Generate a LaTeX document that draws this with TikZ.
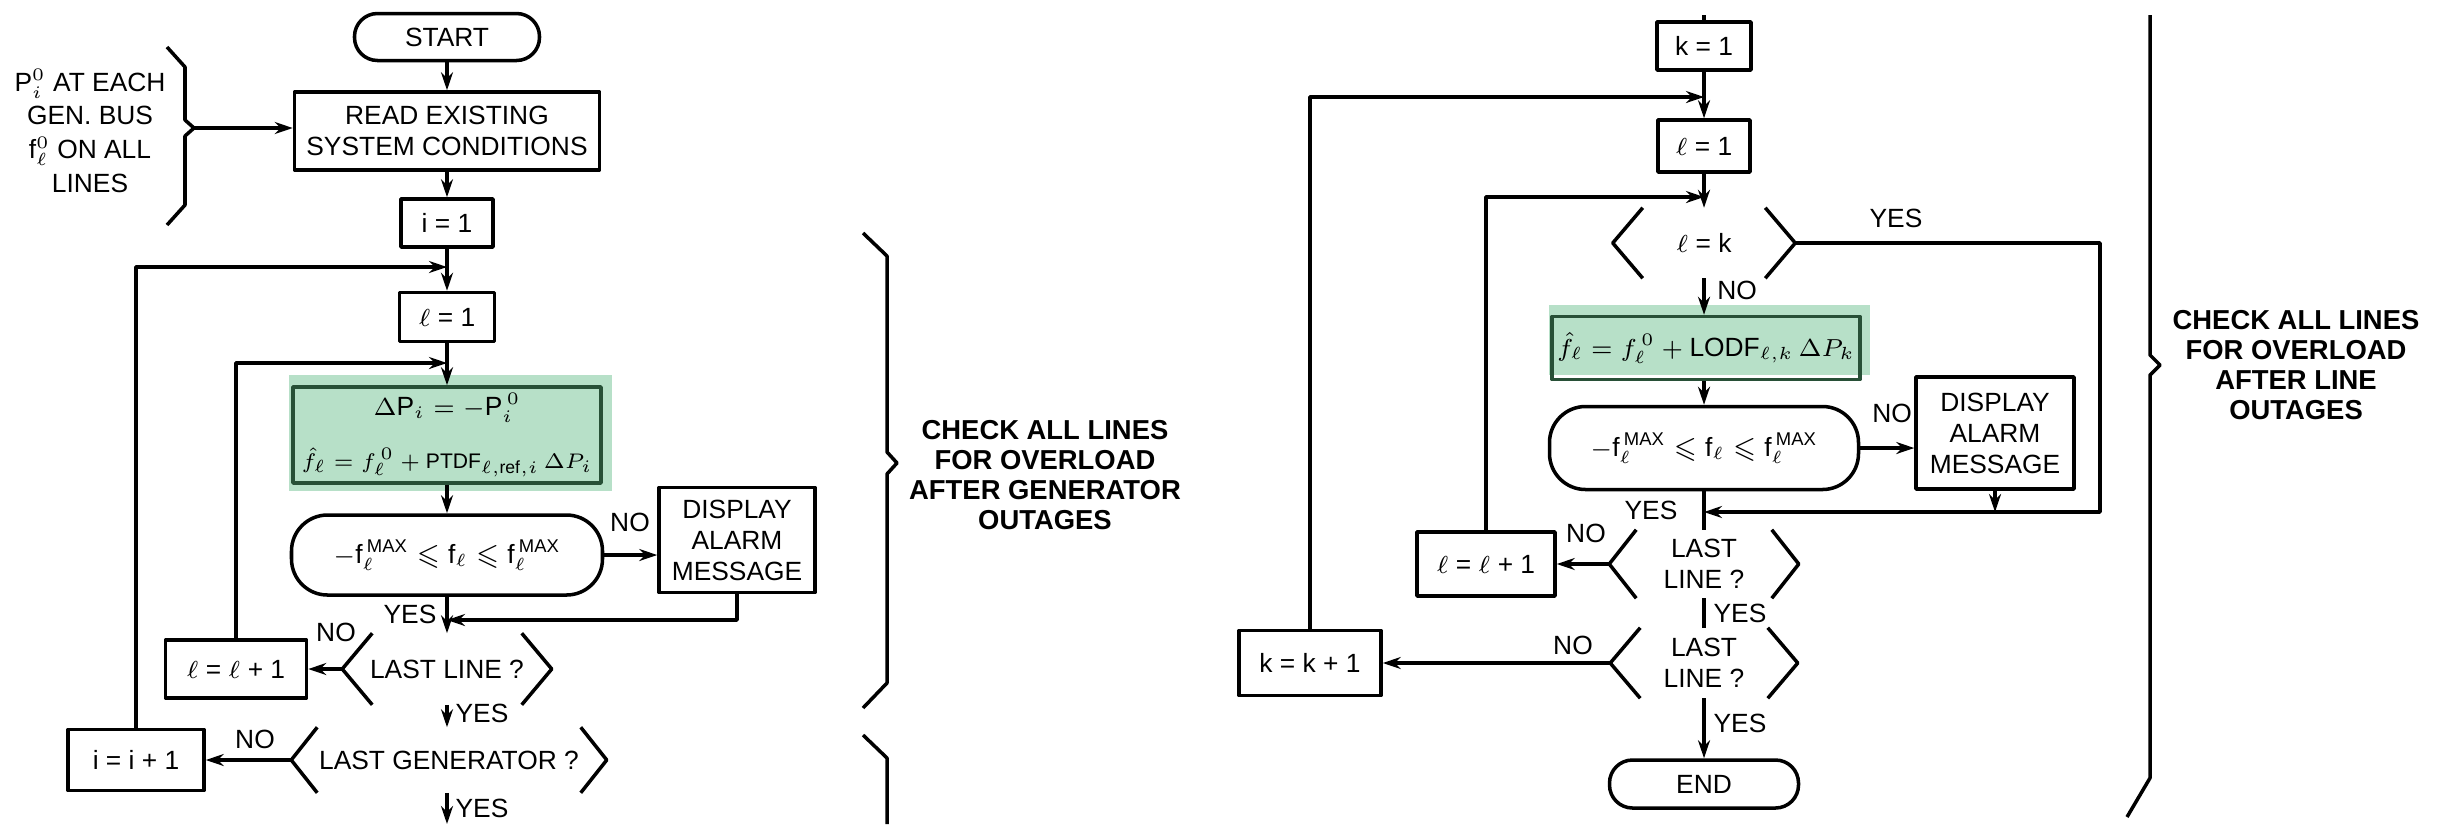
\documentclass[tikz,border=0pt]{standalone}
\usepackage{amsmath,amssymb}
\usepackage{fontspec}
\setmainfont{Liberation Sans}
\usetikzlibrary{arrows.meta}

\definecolor{hlgreen}{RGB}{183,224,200}
\definecolor{dkgreen}{RGB}{40,80,55}

\begin{document}
\begin{tikzpicture}[x=0.1mm,y=-0.1mm,line width=1pt,line join=round,
  every node/.style={font=\fontsize{7.5}{8.8}\selectfont},
  box/.style={draw,inner sep=0pt,align=center},
  term/.style={box,rounded corners=2.3mm},
  cond/.style={box,rounded corners=3.6mm},
  calcbox/.style={box,draw=dkgreen},
  dec/.style={inner sep=0pt,align=center},
  lbl/.style={inner sep=0pt},
  note/.style={align=center,inner sep=0pt,font=\bfseries\fontsize{7.8}{8.6}\selectfont},
  arr/.style={-{Stealth[length=1.8mm,width=1.2mm]}}]
  \useasboundingbox (0,0) rectangle (2448,824);

  % green highlights behind the update boxes
  \fill[hlgreen] (289,375) rectangle (612,491);
  \fill[hlgreen] (1549,305) rectangle (1870,375);

  % generator outages
  \node[term,minimum width=18.5mm,minimum height=4.7mm] (start) at (447,37) {START};
  \node[box,minimum width=30.5mm,minimum height=7.8mm] (read) at (447,131) {READ EXISTING\\SYSTEM CONDITIONS};
  \node[box,minimum width=9.2mm,minimum height=4.8mm] (i1) at (447,223) {i = 1};
  \node[box,minimum width=9.5mm,minimum height=4.9mm] (l1) at (447,317) {$\ell$ = 1};
  \node[calcbox,minimum width=30.8mm,minimum height=9.6mm] (dp) at (447,435)
    {$\Delta\text{P}_i = -\text{P}_i^{\,0}$\\[2.2mm]
     {\fontsize{6}{7}\selectfont $\hat{f}_{\ell}=f_{\ell}^{\,0}+\mathrm{PTDF}_{\ell,\mathrm{ref},i}\,\Delta P_i$}};
  \node[cond,minimum width=31.1mm,minimum height=8mm] (chk) at (447,555)
    {$-\text{f}_\ell^{\,\text{MAX}}\leqslant\text{f}_\ell\leqslant\text{f}_\ell^{\,\text{MAX}}$};
  \node[box,minimum width=15.6mm,minimum height=10.5mm] (alarm) at (737,540) {DISPLAY\\ALARM\\MESSAGE};
  \node[dec,minimum width=20.6mm,minimum height=6.8mm] (lastl) at (447,669) {LAST LINE ?};
  \node[box,minimum width=14.1mm,minimum height=5.8mm] (incl) at (236,669) {$\ell$ = $\ell$ + 1};
  \node[dec,minimum width=31.2mm,minimum height=6.2mm] (lastg) at (449,760) {LAST GENERATOR ?};
  \node[box,minimum width=13.6mm,minimum height=6.1mm] (inci) at (136,760) {i = i + 1};
  \node[align=center,inner sep=0pt,font=\fontsize{7.5}{9.6}\selectfont] (data) at (90,131)
    {P$_i^{0}$ AT EACH\\GEN. BUS\\f$_\ell^{0}$ ON ALL\\LINES};
  \node[note] (chkgen) at (1045,475) {CHECK ALL LINES\\FOR OVERLOAD\\AFTER GENERATOR\\OUTAGES};

  % line outages
  \node[box,minimum width=9.4mm,minimum height=4.8mm] (k1) at (1704,46) {k = 1};
  \node[box,minimum width=9.2mm,minimum height=5.2mm] (l1r) at (1704,146) {$\ell$ = 1};
  \node[dec,minimum width=17.9mm,minimum height=6.7mm] (lk) at (1704,243) {$\ell$ = k};
  \node[calcbox,minimum width=30.8mm,minimum height=6.3mm] (lo) at (1706,348)
    {$\hat{f}_{\ell}=f_{\ell}^{\,0}+\mathrm{LODF}_{\ell,k}\,\Delta P_k$};
  \node[cond,minimum width=30.9mm,minimum height=8.3mm] (chkr) at (1704,448)
    {$-\text{f}_\ell^{\,\text{MAX}}\leqslant\text{f}_\ell\leqslant\text{f}_\ell^{\,\text{MAX}}$};
  \node[box,minimum width=15.8mm,minimum height=11.2mm] (alarmr) at (1995,433) {DISPLAY\\ALARM\\MESSAGE};
  \node[dec,minimum width=18.6mm,minimum height=6.5mm] (lastr) at (1704,564) {LAST\\LINE ?};
  \node[box,minimum width=13.8mm,minimum height=6.4mm] (inclr) at (1486,564) {$\ell$ = $\ell$ + 1};
  \node[dec,minimum width=18.4mm,minimum height=6.7mm] (lastk) at (1704,663) {LAST\\LINE ?};
  \node[box,minimum width=14.2mm,minimum height=6.5mm] (inck) at (1310,663) {k = k + 1};
  \node[term,minimum width=18.9mm,minimum height=4.8mm] (stop) at (1704,784) {END};
  \node[note] (chkline) at (2296,365) {CHECK ALL LINES\\FOR OVERLOAD\\AFTER LINE\\OUTAGES};

  % YES / NO labels
  \foreach \n/\x/\y/\t in {no1/630/522/NO, yes1/410/614/YES, no2/336/632/NO, yes2/482/713/YES,
      no3/255/739/NO, yes3/482/808/YES, yes4/1896/218/YES, no4/1737/290/NO, no5/1892/413/NO,
      yes5/1651/510/YES, no6/1586/533/NO, yes6/1740/613/YES, no7/1573/645/NO, yes7/1740/723/YES}
    \node[lbl] (\n) at (\x,\y) {\t};

  % decision chevrons
  \foreach \n/\d in {lastl/3mm, lastg/2.6mm, lk/3mm, lastr/2.7mm, lastk/3mm} {
    \draw ([xshift=\d]\n.north west) -- (\n.west) -- ([xshift=\d]\n.south west);
    \draw ([xshift=-\d]\n.north east) -- (\n.east) -- ([xshift=-\d]\n.south east);
  }

  % braces
  \draw (167,47) -- (185,67) -- (185,120) -- (194,128) -- (185,136) -- (185,205) -- (167,225);
  \draw (863,233) -- (887,256) -- (887,452) -- (897,463) -- (887,474) -- (887,683) -- (863,708);
  \draw (863,735) -- (887,758) -- (887,824);
  \draw (2150,15) -- (2150,355) -- (2160,365) -- (2150,375) -- (2150,778) -- (2127,817);

  \coordinate (tipa) at (194,128);
  \coordinate (ji) at (447,267);
  \coordinate (jl) at (447,363);
  \coordinate (jr) at (447,620);
  \coordinate (bot) at (447,824);
  \coordinate (top) at (1704,15);
  \coordinate (jk) at (1704,97);
  \coordinate (jlr) at (1704,197);
  \coordinate (rr) at (2100,512);
  \coordinate (jrr) at (1704,512);

  % connectors, generator part
  \draw[arr] (tipa) -- (tipa -| read.west);
  \draw[arr] (start) -- (read);
  \draw[arr] (read) -- (i1);
  \draw[arr] (i1) -- (l1);
  \draw[arr] (l1) -- (dp);
  \draw[arr] (dp) -- (chk);
  \draw[arr] (chk.east) -- (chk.east -| alarm.west);
  \draw[arr] (chk) -- (lastl);
  \draw[arr] (alarm) |- (jr);
  \draw[arr] (lastl) -- (incl);
  \draw[arr] (lastl) -- (lastl.south |- lastg.north);
  \draw[arr] (lastg) -- (inci);
  \draw[arr] (lastl.south |- lastg.south) -- (bot);
  \draw[arr] (incl) |- (jl);
  \draw[arr] (inci) |- (ji);

  % connectors, line part
  \draw (top) -- (k1);
  \draw[arr] (k1) -- (l1r);
  \draw[arr] (l1r) -- (lk);
  \draw[arr] (lk) -- (lk |- lo.north);
  \draw[arr] (lk |- lo.south) -- (chkr);
  \draw[arr] (chkr.east) -- (chkr.east -| alarmr.west);
  \draw (chkr) -- (lastr);
  \draw[arr] (lk) -| (rr) -- (jrr);
  \draw[arr] (alarmr) -- (alarmr.south |- rr);
  \draw (lastr) -- (lastk);
  \draw[arr] (lastk) -- (stop);
  \draw[arr] (lastr) -- (inclr);
  \draw[arr] (lastk) -- (inck);
  \draw[arr] (inclr) |- (jlr);
  \draw[arr] (inck) |- (jk);
\end{tikzpicture}
\end{document}
